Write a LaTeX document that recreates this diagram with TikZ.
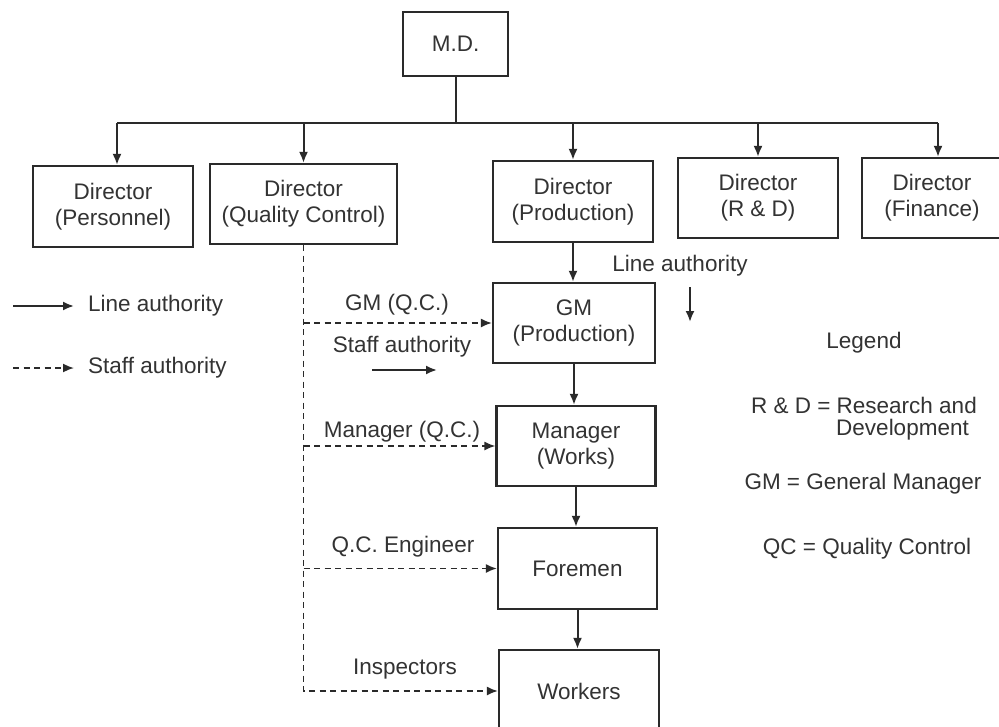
\documentclass[tikz,border=0pt]{standalone}
\usepackage{fontspec}
\setmainfont{Liberation Sans}
\usetikzlibrary{arrows.meta}
\definecolor{ink}{HTML}{2A2A2A}
\definecolor{txt}{HTML}{333333}
\tikzset{
  box/.style={draw=ink, line width=2.2pt, inner sep=0pt, align=center,
    text=txt, font=\fontsize{22.5}{26}\selectfont},
  lbl/.style={inner sep=0pt, text=txt, font=\fontsize{22.5}{26}\selectfont},
  line/.style={draw=ink, line width=2pt},
  arr/.style={line, -{Latex[length=11pt,width=9pt]}},
  staff/.style={draw=ink, line width=1.7pt, dash pattern=on 6pt off 4.5pt},
  staffarr/.style={staff, -{Latex[length=11pt,width=9pt]}},
}
\begin{document}
\begin{tikzpicture}[x=1pt,y=-1pt]
\useasboundingbox[fill=white] (0,0) rectangle (999,726);

% boxes
\node[box, minimum width=105pt, minimum height=64pt] (md) at (455.5,44) {M.D.};
\node[box, minimum width=160pt, minimum height=81pt] (dpers) at (113,206.5) {Director\\(Personnel)};
\node[box, minimum width=187pt, minimum height=80pt] (dqc) at (303.5,204) {Director\\(Quality Control)};
\node[box, minimum width=160pt, minimum height=81pt] (dprod) at (573,201.5) {Director\\(Production)};
\node[box, minimum width=160pt, minimum height=80pt] (drd) at (758,198) {Director\\(R \& D)};
\node[box, minimum width=140pt, minimum height=80pt] (dfin) at (932,198) {Director\\(Finance)};
\node[box, minimum width=162pt, minimum height=80pt] (gm) at (574,323) {GM\\(Production)};
\node[box, minimum width=159pt, minimum height=80pt] (mw) at (576,446) {Manager\\(Works)};
\node[box, minimum width=159pt, minimum height=81pt] (fm) at (577.5,568.5) {Foremen};
\node[box, minimum width=160pt, minimum height=82pt] (wk) at (579,691) {Workers};

% line authority tree
\coordinate (busL) at (117,123);
\coordinate (busR) at (938,123);
\draw[line] (md.south) -- (md.south |- busL);
\draw[line] (busL) -- (busR);
\draw[arr] (busL) -- (busL |- dpers.north);
\draw[arr] (busR) -- (busR |- dfin.north);
\foreach \n in {dqc,dprod,drd}
  \draw[arr] (\n.north |- busL) -- (\n.north);
\draw[arr] (dprod.south) -- (dprod.south |- gm.north);
\draw[arr] (gm.south) -- (gm.south |- mw.north);
\draw[arr] (mw.south) -- (mw.south |- fm.north);
\draw[arr] (fm.south) -- (fm.south |- wk.north);

% staff authority from quality control
\draw[staffarr] (dqc.south) |- (wk.west);
\draw[staffarr] (dqc.south |- gm.west) -- (gm.west);
\draw[staffarr] (dqc.south |- mw.west) -- (mw.west);
\draw[staffarr] (dqc.south |- fm.west) -- (fm.west);

% connector labels
\node[lbl] (lgmqc) at (397,305) {GM (Q.C.)};
\node[lbl] (lsa) at (402,347) {Staff authority};
\coordinate (sa1) at (372,370);
\coordinate (sa2) at (437,370);
\draw[arr] (sa1) -- (sa2);
\node[lbl] (lla) at (680,266) {Line authority};
\coordinate (la1) at (690,287);
\coordinate (la2) at (690,322);
\draw[arr] (la1) -- (la2);
\node[lbl] (lmqc) at (402,432) {Manager (Q.C.)};
\node[lbl] (lqce) at (403,547) {Q.C. Engineer};
\node[lbl] (lins) at (405,669) {Inspectors};

% key on the left
\coordinate (k1a) at (13,306);
\coordinate (k1b) at (74,306);
\draw[arr] (k1a) -- (k1b);
\node[lbl, anchor=west] (k1) at (88,306) {Line authority};
\coordinate (k2a) at (13,368);
\coordinate (k2b) at (74,368);
\draw[staffarr] (k2a) -- (k2b);
\node[lbl, anchor=west] (k2) at (88,368) {Staff authority};

% abbreviations
\node[lbl] (leg) at (864,343) {Legend};
\node[lbl, anchor=east] (ab1) at (977,405) {R \& D = Research and};
\node[lbl, anchor=east] (ab1b) at (969,430) {Development};
\node[lbl] (ab2) at (863,484) {GM = General Manager};
\node[lbl] (ab3) at (867,549) {QC = Quality Control};
\end{tikzpicture}
\end{document}
